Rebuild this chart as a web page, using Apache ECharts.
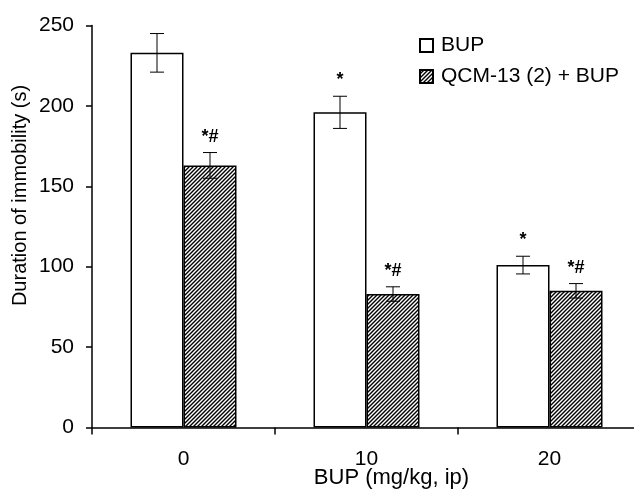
<!DOCTYPE html>
<html>
<head>
<meta charset="utf-8">
<script src="https://cdn.jsdelivr.net/npm/echarts@6/dist/echarts.min.js"></script>
<style>
  html, body { margin: 0; padding: 0; background: #fff; }
  #main { width: 634px; height: 491px; }
</style>
</head>
<body>
<div id="main"></div>
<script>
  // doses of BUP (mg/kg, ip)
  var categories = ['0', '10', '20'];
  var bupMean = [233, 196, 101];
  var bupErr = [12, 10, 5.5];
  var qcmMean = [163, 83, 85];
  var qcmErr = [8, 4.5, 4.5];
  var bupMark = ['', '*', '*'];
  var qcmMark = ['*#', '*#', '*#'];
  var yTicks = [0, 50, 100, 150, 200, 250];

  var FONT = '"Liberation Sans", Arial, sans-serif';
  var BAR_W = 53;

  function hatch() {
    var c = document.createElement('canvas');
    c.width = c.height = 4;
    var g = c.getContext('2d');
    g.fillStyle = '#fff';
    g.fillRect(0, 0, 4, 4);
    g.strokeStyle = '#000';
    g.lineWidth = 1.4;
    g.beginPath();
    g.moveTo(-1, 5); g.lineTo(5, -1);
    g.moveTo(-1, 1); g.lineTo(1, -1);
    g.moveTo(3, 5); g.lineTo(5, 3);
    g.stroke();
    return c;
  }

  function errData(mean, err, mark) {
    return mean.map(function (m, i) { return [i, m, err[i], mark[i]]; });
  }

  function errSeries(name, mean, err, mark, dir) {
    return {
      type: 'custom',
      name: name + '_err',
      z: 5,
      data: errData(mean, err, mark),
      renderItem: function (params, api) {
        var i = api.value(0), m = api.value(1), e = api.value(2);
        var c = api.coord([i, m]);
        var x = c[0] + dir * BAR_W / 2;
        var top = api.coord([i, m + e])[1];
        var bot = api.coord([i, m - e])[1];
        var cap = 7;
        var st = { stroke: '#000', lineWidth: 1 };
        return {
          type: 'group',
          children: [
            { type: 'line', shape: { x1: x, y1: top, x2: x, y2: bot }, style: st },
            { type: 'line', shape: { x1: x - cap, y1: top, x2: x + cap, y2: top }, style: st },
            { type: 'line', shape: { x1: x - cap, y1: bot, x2: x + cap, y2: bot }, style: st },
            { type: 'text', x: x, y: top - 16,
              style: { text: mark[params.dataIndex], fill: '#000', font: 'bold 18px ' + FONT,
                       align: 'center', verticalAlign: 'middle' } }
          ]
        };
      }
    };
  }

  var myChart = echarts.init(document.getElementById('main'));
  var option = {
    animation: false,
    backgroundColor: '#fff',
    textStyle: { fontFamily: FONT, color: '#000' },
    grid: { left: 92, right: -7, top: 25.5, bottom: 63.5, outerBoundsMode: 'none', containLabel: false },
    legend: {
      orient: 'vertical',
      left: 414, top: 30,
      icon: 'rect',
      itemWidth: 13, itemHeight: 13, itemGap: 10,
      data: ['BUP', 'QCM-13 (2) + BUP'],
      textStyle: { fontSize: 21, color: '#000', fontFamily: FONT, padding: [0, 0, 0, 3] }
    },
    xAxis: {
      type: 'category',
      data: categories,
      name: 'BUP (mg/kg, ip)',
      nameLocation: 'middle',
      nameGap: 39,
      nameMoveOverlap: false,
      nameTextStyle: { fontSize: 22, color: '#000', padding: [0, 0, 0, 50] },
      axisLine: { lineStyle: { color: '#000', width: 1.5 } },
      axisTick: { show: true, length: 7, lineStyle: { color: '#000', width: 1.5 } },
      axisLabel: { fontSize: 21, color: '#000', margin: 21 }
    },
    yAxis: {
      type: 'value',
      min: yTicks[0], max: yTicks[yTicks.length - 1], interval: 50,
      name: 'Duration of immobility (s)',
      nameLocation: 'middle',
      nameGap: 62,
      nameMoveOverlap: false,
      nameTextStyle: { fontSize: 20, color: '#000', padding: [0, 0, 0, 62] },
      axisLine: { show: true, lineStyle: { color: '#000', width: 1.5 } },
      axisTick: { show: true, length: 6, lineStyle: { color: '#000', width: 1.5 } },
      axisLabel: { fontSize: 21, color: '#000', margin: 18 },
      splitLine: { show: false }
    },
    series: [
      {
        name: 'BUP', type: 'bar', barWidth: BAR_W, barGap: '0%',
        data: bupMean,
        itemStyle: { color: '#fff', borderColor: '#000', borderWidth: 1.5 }
      },
      {
        name: 'QCM-13 (2) + BUP', type: 'bar', barWidth: BAR_W, barGap: '0%',
        data: qcmMean,
        itemStyle: { color: { image: hatch(), repeat: 'repeat' }, borderColor: '#000', borderWidth: 1.5 }
      },
      errSeries('BUP', bupMean, bupErr, bupMark, -1),
      errSeries('QCM', qcmMean, qcmErr, qcmMark, 1)
    ]
  };
  myChart.setOption(option, true);
</script>
</body>
</html>
